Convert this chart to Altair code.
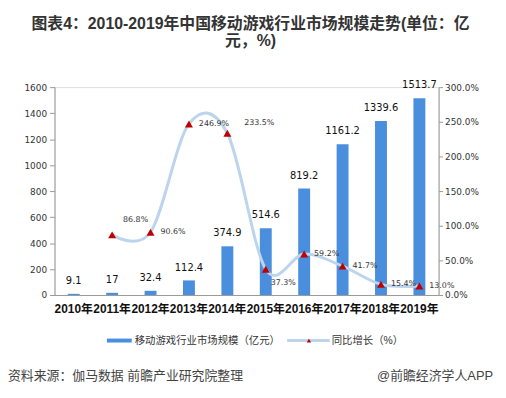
import altair as alt
import pandas as pd

years = ["2010年", "2011年", "2012年", "2013年", "2014年", "2015年", "2016年", "2017年", "2018年", "2019年"]
market = [9.1, 17, 32.4, 112.4, 374.9, 514.6, 819.2, 1161.2, 1339.6, 1513.7]
growth = [None, 86.8, 90.6, 246.9, 233.5, 37.3, 59.2, 41.7, 15.4, 13.0]
left_ticks = [0, 200, 400, 600, 800, 1000, 1200, 1400, 1600]
right_ticks = [0, 50, 100, 150, 200, 250, 300]
title_lines = ["图表4：2010-2019年中国移动游戏行业市场规模走势(单位：亿", "元，%)"]
legend_labels = ["移动游戏行业市场规模（亿元）", "同比增长（%）"]
source_text = "资料来源：伽马数据 前瞻产业研究院整理"
credit_text = "@前瞻经济学人APP"

BAR = "#4a8ede"
LINE = "#bcd4ec"
RED = "#c00000"
CJK = "Liberation Sans, Noto Sans CJK SC"
NUM = "DejaVu Sans"

df = pd.DataFrame({"year": years, "market": market, "growth": growth})
df["mlabel"] = [f"{v:g}" for v in market]
df["glabel"] = [("" if g is None or pd.isna(g) else f"{g:.1f}%") for g in growth]
gdf = df.dropna(subset=["growth"])

xenc = alt.X(
    "year:N", sort=years,
    scale=alt.Scale(paddingInner=0.69, paddingOuter=0.345),
    axis=alt.Axis(title=None, labelAngle=0, ticks=False, domainColor="#9a9a9a",
                  labelFont=CJK, labelFontSize=12, labelFontWeight="bold",
                  labelColor="#111", labelPadding=9),
)

yl = alt.Y("market:Q", scale=alt.Scale(domain=[0, 1600], nice=False),
           axis=alt.Axis(title=None, values=left_ticks, grid=False, domainColor="#9a9a9a",
                         tickColor="#9a9a9a", tickSize=5, labelFont=NUM, labelFontSize=9,
                         labelColor="#333", labelPadding=3, format="d"))

bars = alt.Chart(df).mark_bar(color=BAR).encode(x=xenc, y=yl)
bar_text = alt.Chart(df).mark_text(font=NUM, fontSize=10, color="#111", dy=-8,
                                   baseline="bottom").encode(x=xenc, y=yl, text="mlabel:N")
left = alt.layer(bars, bar_text)

yr = alt.Y("growth:Q", scale=alt.Scale(domain=[0, 300], nice=False),
           axis=alt.Axis(title=None, orient="right", values=right_ticks, grid=False,
                         domainColor="#9a9a9a", tickColor="#9a9a9a", tickSize=4,
                         labelFont=NUM, labelFontSize=9, labelColor="#333", labelPadding=2,
                         labelExpr="format(datum.value, '.1f') + '%'"))

gbase = alt.Chart(gdf)
line = gbase.mark_line(color=LINE, strokeWidth=3, interpolate="cardinal", tension=0).encode(x=xenc, y=yr)
pts = gbase.mark_point(shape="triangle-up", filled=True, color=RED, size=65, opacity=1).encode(x=xenc, y=yr)

special = ["2011年", "2014年", "2015年"]
lab_default = gbase.transform_filter(
    ~alt.FieldOneOfPredicate(field="year", oneOf=special)
).mark_text(font=NUM, fontSize=8, color="#333", align="left", dx=10).encode(x=xenc, y=yr, text="glabel:N")
lab_2011 = gbase.transform_filter(alt.datum.year == "2011年").mark_text(
    font=NUM, fontSize=8, color="#333", align="left", dx=11, dy=-15).encode(x=xenc, y=yr, text="glabel:N")
lab_2014 = gbase.transform_filter(alt.datum.year == "2014年").mark_text(
    font=NUM, fontSize=8, color="#333", align="left", dx=17, dy=-10).encode(x=xenc, y=yr, text="glabel:N")
lab_2015 = gbase.transform_filter(alt.datum.year == "2015年").mark_text(
    font=NUM, fontSize=8, color="#333", align="left", dx=5, dy=14).encode(x=xenc, y=yr, text="glabel:N")

right = alt.layer(line, pts, lab_default, lab_2011, lab_2014, lab_2015)

one = alt.Data(values=[{"a": legend_labels[0], "b": legend_labels[1], "s": source_text, "c": credit_text}])
leg_rect = alt.Chart(one).mark_rect(color=BAR).encode(
    x=alt.value(53), x2=alt.value(78), y=alt.value(254), y2=alt.value(258))
leg_t1 = alt.Chart(one).mark_text(font=CJK, fontSize=10.5, color="#333", align="left").encode(
    x=alt.value(81), y=alt.value(256), text="a:N")
leg_line = alt.Chart(one).mark_rule(color=LINE, strokeWidth=3).encode(
    x=alt.value(235), x2=alt.value(278), y=alt.value(256))
leg_pt = alt.Chart(one).mark_point(shape="triangle-up", filled=True, color=RED, size=20, opacity=1).encode(
    x=alt.value(257), y=alt.value(256))
leg_t2 = alt.Chart(one).mark_text(font=CJK, fontSize=10.5, color="#333", align="left").encode(
    x=alt.value(280), y=alt.value(256), text="b:N")
src = alt.Chart(one).mark_text(font=CJK, fontSize=13, color="#444", align="left").encode(
    x=alt.value(-47), y=alt.value(292), text="s:N")
cred = alt.Chart(one).mark_text(font=CJK, fontSize=13, color="#444", align="right").encode(
    x=alt.value(443), y=alt.value(292), text="c:N")

chart = alt.layer(
    left, right, leg_rect, leg_t1, leg_line, leg_pt, leg_t2, src, cred
).resolve_scale(y="independent").properties(
    width=388, height=210,
    padding={"left": 47, "top": 78, "right": 60, "bottom": 94},
    autosize=alt.AutoSizeParams(type="none"),
    title=alt.Title(text=title_lines, fontSize=16, font=CJK, fontWeight="bold", color="#333",
                    anchor="middle", frame="group", dx=4, offset=32, lineHeight=17),
).configure_view(stroke=None).configure(background="white")

chart.save("out.html", embed_options={"renderer": "svg", "actions": False})
